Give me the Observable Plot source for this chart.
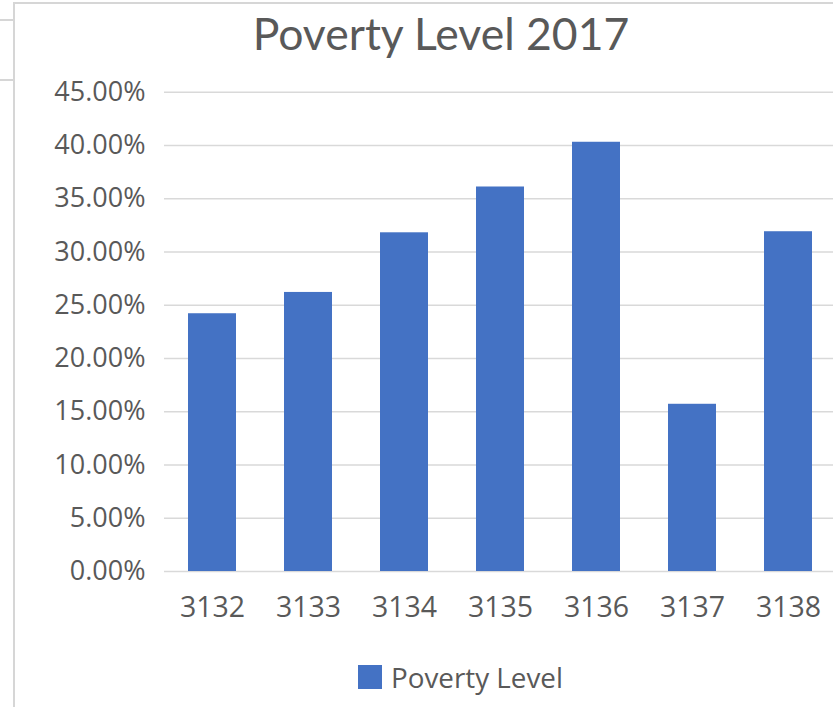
<!DOCTYPE html>
<html>
<head>
<meta charset="utf-8">
<script src="https://cdn.jsdelivr.net/npm/d3@7"></script>
<script src="https://cdn.jsdelivr.net/npm/@observablehq/plot@0.6"></script>
<style>
  html, body { margin: 0; padding: 0; background: #fff; }
  #wrap { position: relative; width: 833px; height: 707px; overflow: hidden; background: #fff; }
  .frame { position: absolute; background: #d6d6d6; }
  #title { position: absolute; top: 6px; left: 0; width: 882px; text-align: center;
           font-family: Lato, "Open Sans", sans-serif; font-size: 44.5px; color: #595959; white-space: nowrap; }
  #chart { position: absolute; top: 60px; left: 0; }
  #legend { position: absolute; top: 658px; left: 358px; display: flex; align-items: center;
            font-family: "Open Sans", sans-serif; font-size: 27.8px; color: #595959; white-space: nowrap; }
  #legend .sw { width: 24px; height: 24px; margin-right: 9px; }
  #chart g[aria-label="x-axis tick label"] { font-size: 28.5px; }
</style>
</head>
<body>
<div id="wrap">
  <div class="frame" style="left:13px;top:2px;width:2px;height:705px"></div>
  <div class="frame" style="left:13px;top:2px;width:820px;height:2px"></div>
  <div class="frame" style="left:0;top:19px;width:13px;height:2px"></div>
  <div class="frame" style="left:0;top:79px;width:13px;height:2px"></div>
  <div id="title"></div>
  <div id="chart"></div>
  <div id="legend"></div>
</div>
<script>
const chartTitle = "Poverty Level 2017";
const seriesName = "Poverty Level";
const zipCodes = ["3132", "3133", "3134", "3135", "3136", "3137", "3138"];
const povertyRates = [0.242, 0.262, 0.318, 0.361, 0.403, 0.157, 0.319];
const yTicks = [0, 0.05, 0.10, 0.15, 0.20, 0.25, 0.30, 0.35, 0.40, 0.45];

const barColor = "#4472c4";
const textColor = "#595959";
const data = zipCodes.map((z, i) => ({zip: z, rate: povertyRates[i]}));

document.getElementById("title").textContent = chartTitle;

const plot = Plot.plot({
  width: 833,
  height: 560,
  marginLeft: 164,
  marginRight: -3,
  marginTop: 31.7,
  marginBottom: 49,
  style: {fontFamily: "'Open Sans', sans-serif", fontSize: "27px", color: textColor, background: "transparent", overflow: "visible"},
  x: {domain: zipCodes, paddingInner: 0.5, paddingOuter: 0.25, label: null},
  y: {domain: [0, 0.45], label: null},
  marks: [
    Plot.ruleY(yTicks, {stroke: "#d9d9d9", strokeWidth: 1.6}),
    Plot.barY(data, {x: "zip", y: "rate", fill: barColor}),
    Plot.axisY(yTicks, {tickSize: 0, tickPadding: 19, tickFormat: d3.format(".2%"), label: null, fill: textColor}),
    Plot.axisX({tickSize: 0, tickPadding: 25, label: null, fill: textColor})
  ]
});
document.getElementById("chart").appendChild(plot);

const legend = document.getElementById("legend");
const sw = document.createElement("div");
sw.className = "sw";
sw.style.background = barColor;
legend.appendChild(sw);
const lt = document.createElement("span");
lt.textContent = seriesName;
legend.appendChild(lt);
</script>
</body>
</html>
